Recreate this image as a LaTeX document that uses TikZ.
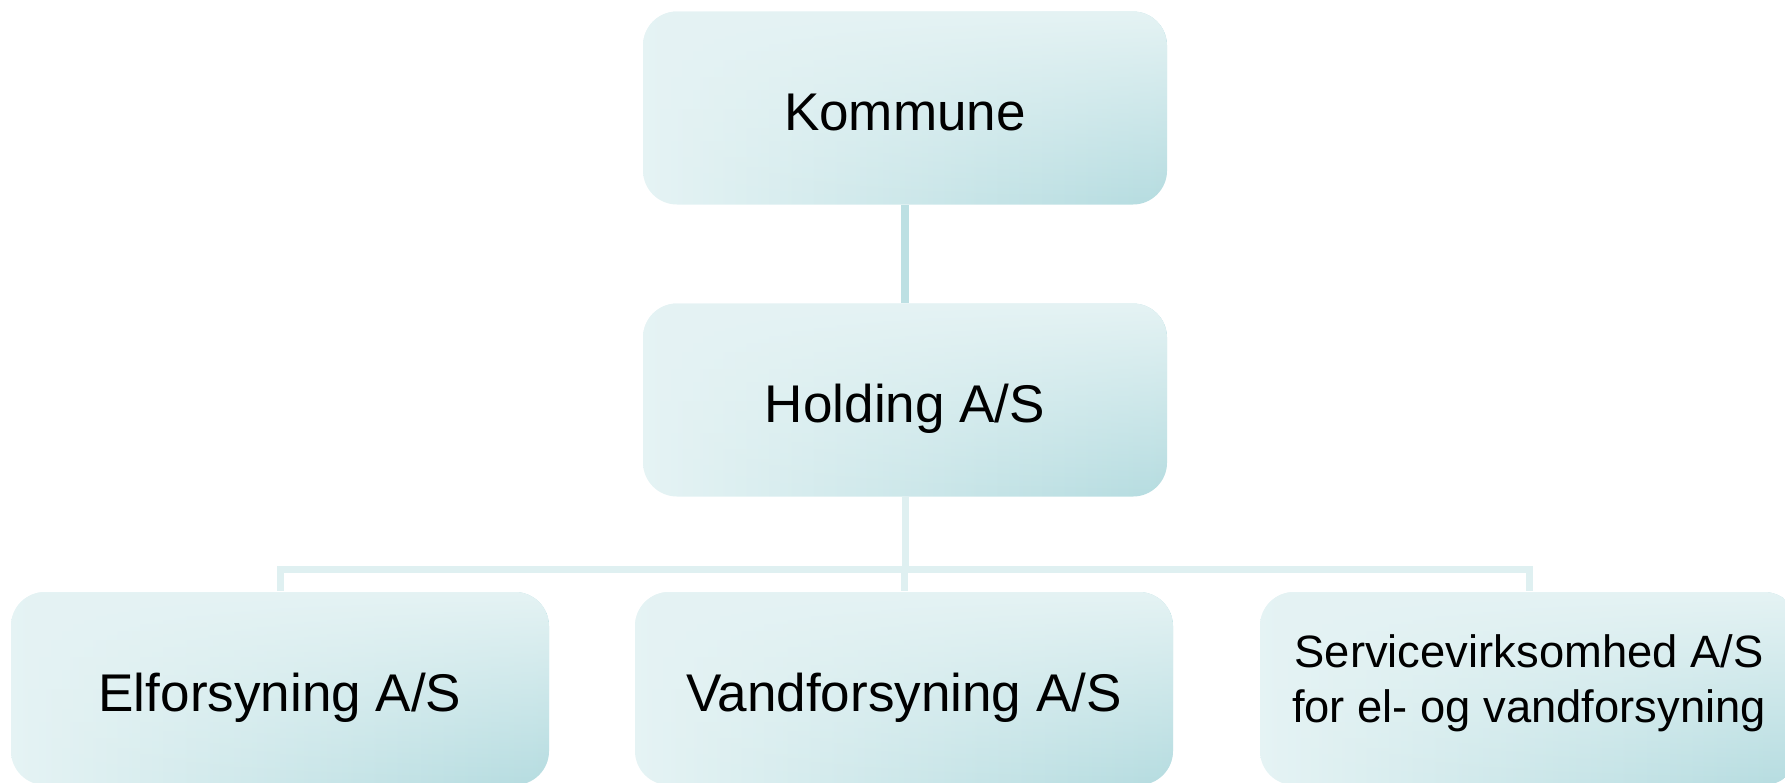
\documentclass[tikz,border=0pt]{standalone}
\usepackage{fontspec}
\setmainfont{Liberation Sans}
\usepackage{tikz}
\usetikzlibrary{fadings}
\definecolor{boxlite}{HTML}{E5F3F4}
\definecolor{boxdark}{HTML}{B5DCE0}
\definecolor{topline}{HTML}{BDE0E3}
\definecolor{busline}{HTML}{DFF0F1}
\tikzfading[name=fadetop, top color=transparent!0, bottom color=transparent!100]
\tikzset{
  orgbox/.style={rounded corners=0.34cm, minimum width=5.24cm, minimum height=1.93cm,
    inner sep=0pt, left color=boxlite, right color=boxdark,
    path picture={\fill[boxlite, path fading=fadetop]
      (path picture bounding box.south west) rectangle (path picture bounding box.north east);},
    align=center, text height=0.45cm, text depth=0pt, font=\fontsize{15.1}{18}\selectfont},
  kidbox/.style={orgbox, minimum width=5.38cm},
  servbox/.style={kidbox, text height=, text depth=0.2cm, font=\fontsize{12.9}{15.9}\selectfont},
  upper/.style={draw=topline, line width=0.08cm},
  lower/.style={draw=busline, line width=0.07cm}
}

\begin{document}
\begin{tikzpicture}

  \useasboundingbox (0,0) rectangle (17.85,-7.82);

  % ---------- Top ----------
  \node[orgbox] at (9.05,-1.08) (kommune) {Kommune};
  \node[orgbox] at (9.05,-4.00) (holding) {Holding A/S};

  % ---------- Bottom row ----------
  \node[kidbox] at (2.80,-6.885) (elf) {Elforsyning A/S};
  \node[kidbox] at (9.04,-6.885) (vand) {Vandforsyning A/S};
  \node[servbox] at (15.29,-6.885) (serv) {Servicevirksomhed A/S\\for el- og vandforsyning};

  % ---------- Lines ----------
  \coordinate (bus) at (0,-5.69);
  \draw[upper] (kommune) -- (holding);
  \foreach \kid in {elf,vand,serv}
    \draw[lower] (holding) |- (bus -| \kid) -- (\kid);
\end{tikzpicture}
\end{document}
